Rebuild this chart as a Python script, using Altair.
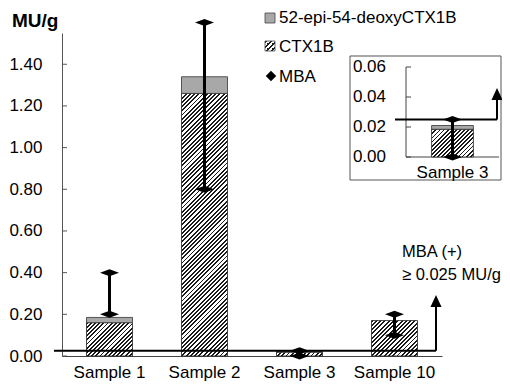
import altair as alt
import pandas as pd

# ---------------- data ----------------
samples = ["Sample 1", "Sample 2", "Sample 3", "Sample 10"]
ctx1b = [0.16, 1.26, 0.0185, 0.17]          # CTX1B (hatched)
epi = [0.025, 0.08, 0.0025, 0.0]             # 52-epi-54-deoxyCTX1B (grey)
mba_low = [0.20, 0.80, 0.0, 0.10]            # MBA range low
mba_high = [0.40, 1.60, 0.025, 0.20]         # MBA range high
threshold = 0.025                            # MBA (+) >= 0.025 MU/g
y_ticks = [0.0, 0.2, 0.4, 0.6, 0.8, 1.0, 1.2, 1.4]
inset_ticks = [0.0, 0.02, 0.04, 0.06]
inset_sample = "Sample 3"

# ---------------- layout ----------------
W, H = 380, 323
YMAX = 1.55
PXU = H / YMAX
PI = 0.516
STEP = W / len(samples)
BW = STEP * (1 - PI)
FONT = "Liberation Sans"
FS = 17

IN_X = [344, 437]
IN_Y = [124, 34]
IN_DOM = [0, 0.06]
IN_PXU = (IN_Y[0] - IN_Y[1]) / (IN_DOM[1] - IN_DOM[0])
IN_P = 0.38
IN_STEP = (IN_X[1] - IN_X[0]) / (1 + IN_P)
IN_BW = IN_STEP * (1 - IN_P)


def hatch(w, h, period=4.2, dark=0.45, color="#1a1a1a", bg="#ffffff"):
    r = h / w
    k = (1 + r) / (1 + r * r)
    n = max(1, round((w + h) / period))
    stops = []
    for i in range(n):
        a = i / n
        b = (i + dark) / n
        c = (i + 1) / n
        stops += [
            {"offset": a, "color": color},
            {"offset": b, "color": color},
            {"offset": b, "color": bg},
            {"offset": c, "color": bg},
        ]
    return {"gradient": "linear", "x1": 0, "y1": 0, "x2": k, "y2": k * r, "stops": stops}


df = pd.DataFrame({
    "sample": samples,
    "ctx1b": ctx1b,
    "top": [c + e for c, e in zip(ctx1b, epi)],
    "lo": mba_low,
    "hi": mba_high,
})

xs = alt.Scale(domain=samples, paddingInner=PI, paddingOuter=PI / 2)
ys = alt.Scale(domain=[0, YMAX], nice=False, zero=True)

X = alt.X("sample:N", scale=xs, sort=samples,
          axis=alt.Axis(title=None, labelAngle=0, ticks=False, tickSize=0,
                        labelPadding=8, labelFontSize=FS, labelFont=FONT,
                        labelColor="black", domainColor="#444", domainWidth=1))

one = pd.DataFrame({"a": [0]})

main_layers = []

# bars: hatched CTX1B, one layer per bar so each has its own hatch
for s, v in zip(samples, ctx1b):
    main_layers.append(
        alt.Chart(df).transform_filter(alt.datum.sample == s).mark_bar(
            fill=hatch(BW, v * PXU), stroke="#222", strokeWidth=0.8
        ).encode(
            x=X,
            y=alt.Y("zero:Q", scale=ys,
                    axis=alt.Axis(title=None, values=y_ticks, format=".2f", ticks=False,
                                  tickSize=0, labelPadding=20, labelFontSize=FS,
                                  labelFont=FONT, labelColor="black", grid=False,
                                  domainColor="#555", domainWidth=1)),
            y2="ctx1b:Q",
        ).transform_calculate(zero="0")
    )

# grey 52-epi-54-deoxyCTX1B on top
main_layers.append(
    alt.Chart(df).transform_filter(alt.datum.top > alt.datum.ctx1b).mark_bar(
        fill="#a8a8a8", stroke="#333", strokeWidth=0.8
    ).encode(x=X, y=alt.Y("ctx1b:Q", scale=ys), y2="top:Q")
)

# inward ticks on y axis
main_layers.append(
    alt.Chart(pd.DataFrame({"t": y_ticks})).mark_rule(color="#555", strokeWidth=1).encode(
        x=alt.value(0), x2=alt.value(5), y=alt.Y("t:Q", scale=ys)
    )
)

# threshold line with arrow
thr = pd.DataFrame({"t": [threshold], "a_top": [0.238], "a_mid": [0.264]})
main_layers.append(
    alt.Chart(thr).mark_rule(color="black", strokeWidth=2).encode(
        x=alt.value(-8), x2=alt.value(374), y=alt.Y("t:Q", scale=ys)
    )
)
main_layers.append(
    alt.Chart(thr).mark_rule(color="black", strokeWidth=2).encode(
        x=alt.value(374), y=alt.Y("t:Q", scale=ys), y2="a_top:Q"
    )
)
main_layers.append(
    alt.Chart(thr).mark_point(shape="M0,-1L-0.92,1L0.92,1Z", size=144, filled=True,
                              color="black", opacity=1).encode(
        x=alt.value(374), y=alt.Y("a_mid:Q", scale=ys)
    )
)

# MBA ranges
main_layers.append(
    alt.Chart(df).mark_rule(color="black", strokeWidth=3).encode(
        x=X, y=alt.Y("lo:Q", scale=ys), y2="hi:Q"
    )
)
DIAMOND = "M-1,0L0,-0.37L1,0L0,0.37Z"
main_layers.append(
    alt.Chart(df).transform_fold(["lo", "hi"], as_=["k", "v"]).mark_point(
        shape=DIAMOND, size=361, filled=True, color="black", opacity=1
    ).encode(x=X, y=alt.Y("v:Q", scale=ys))
)

# texts
def txt(t, x, y, size=FS, bold=False, align="left"):
    return alt.Chart(one).mark_text(
        text=t, align=align, baseline="middle", fontSize=size, font=FONT,
        fontWeight="bold" if bold else "normal", color="black"
    ).encode(x=alt.value(x), y=alt.value(y))

main_layers += [
    txt("MU/g", -50, -12, size=19, bold=True),
    txt("52-epi-54-deoxyCTX1B", 217, -15),
    txt("CTX1B", 217, 14),
    txt("MBA", 217, 44),
    txt("MBA (+)", 340, 219, size=16.5),
    txt("\u2265 0.025 MU/g", 340, 242, size=16.5),
]
# legend symbols
main_layers += [
    alt.Chart(one).mark_square(size=100, fill="#a8a8a8", stroke="#444", strokeWidth=0.8,
                               opacity=1).encode(x=alt.value(208), y=alt.value(-15)),
    alt.Chart(one).mark_square(size=100, fill=hatch(10, 10, period=5), stroke="#444",
                               strokeWidth=0.8, opacity=1).encode(x=alt.value(208), y=alt.value(13)),
    alt.Chart(one).mark_point(shape="diamond", size=110, filled=True, color="black",
                              opacity=1).encode(x=alt.value(209), y=alt.value(43)),
]

main = alt.layer(*main_layers)

# ---------------- inset ----------------
xin = alt.Scale(domain=[inset_sample], range=IN_X, paddingInner=IN_P, paddingOuter=IN_P)
yin = alt.Scale(domain=IN_DOM, range=IN_Y, nice=False, zero=True)
XI = alt.X("sample:N", scale=xin, axis=None)

di = df[df["sample"] == inset_sample].copy()
di["zero"] = 0.0
ins_ax = pd.DataFrame({"lo": [IN_DOM[0]], "hi": [IN_DOM[1]], "t": [threshold],
                       "a_top": [0.039], "a_mid": [0.042]})

inset_layers = [
    alt.Chart(one).mark_rect(fill="white", stroke="#555", strokeWidth=1).encode(
        x=alt.value(288), x2=alt.value(439), y=alt.value(23), y2=alt.value(147)
    ),
    alt.Chart(ins_ax).mark_rule(color="#444", strokeWidth=1).encode(
        x=alt.value(IN_X[0]), y=alt.Y("lo:Q", scale=yin, axis=None), y2="hi:Q"
    ),
    alt.Chart(ins_ax).mark_rule(color="#444", strokeWidth=1).encode(
        x=alt.value(IN_X[0]), x2=alt.value(IN_X[1]), y=alt.Y("lo:Q", scale=yin, axis=None)
    ),
    alt.Chart(pd.DataFrame({"t": inset_ticks})).mark_rule(color="#444").encode(
        x=alt.value(IN_X[0]), x2=alt.value(IN_X[0] + 5), y=alt.Y("t:Q", scale=yin, axis=None)
    ),
    alt.Chart(pd.DataFrame({"t": inset_ticks})).mark_text(
        align="right", baseline="middle", fontSize=FS, font=FONT, color="black"
    ).encode(
        x=alt.value(IN_X[0] - 20), y=alt.Y("t:Q", scale=yin, axis=None),
        text=alt.Text("t:Q", format=".2f")
    ),
    alt.Chart(di).mark_bar(fill=hatch(IN_BW, di["ctx1b"].iloc[0] * IN_PXU), stroke="#222",
                           strokeWidth=0.8).encode(
        x=XI, y=alt.Y("zero:Q", scale=yin, axis=None), y2="ctx1b:Q"
    ),
    alt.Chart(di).mark_bar(fill="#a8a8a8", stroke="#333", strokeWidth=0.8).encode(
        x=XI, y=alt.Y("ctx1b:Q", scale=yin, axis=None), y2="top:Q"
    ),
    alt.Chart(ins_ax).mark_rule(color="black", strokeWidth=2).encode(
        x=alt.value(IN_X[0] - 11), x2=alt.value(IN_X[1] - 2), y=alt.Y("t:Q", scale=yin, axis=None)
    ),
    alt.Chart(ins_ax).mark_rule(color="black", strokeWidth=2).encode(
        x=alt.value(IN_X[1] - 2), y=alt.Y("t:Q", scale=yin, axis=None), y2="a_top:Q"
    ),
    alt.Chart(ins_ax).mark_point(shape="M0,-1L-0.92,1L0.92,1Z", size=144, filled=True,
                                 color="black", opacity=1).encode(
        x=alt.value(IN_X[1] - 2), y=alt.Y("a_mid:Q", scale=yin, axis=None)
    ),
    alt.Chart(di).mark_rule(color="black", strokeWidth=3).encode(
        x=XI, y=alt.Y("lo:Q", scale=yin, axis=None), y2="hi:Q"
    ),
    alt.Chart(di).transform_fold(["lo", "hi"], as_=["k", "v"]).mark_point(
        shape=DIAMOND, size=361, filled=True, color="black", opacity=1
    ).encode(x=XI, y=alt.Y("v:Q", scale=yin, axis=None)),
    alt.Chart(di).mark_text(baseline="middle", fontSize=FS, font=FONT, color="black").encode(
        x=XI, y=alt.value(140), text="sample:N"
    ),
]
inset = alt.layer(*inset_layers)

chart = alt.layer(main, inset).resolve_scale(x="independent", y="independent").properties(
    width=W, height=H, autosize="none",
    padding={"left": 54, "top": 25, "right": 60, "bottom": 28},
).configure(font=FONT).configure_view(stroke=None)

chart.save("out.html", embed_options={"renderer": "svg", "actions": False})
